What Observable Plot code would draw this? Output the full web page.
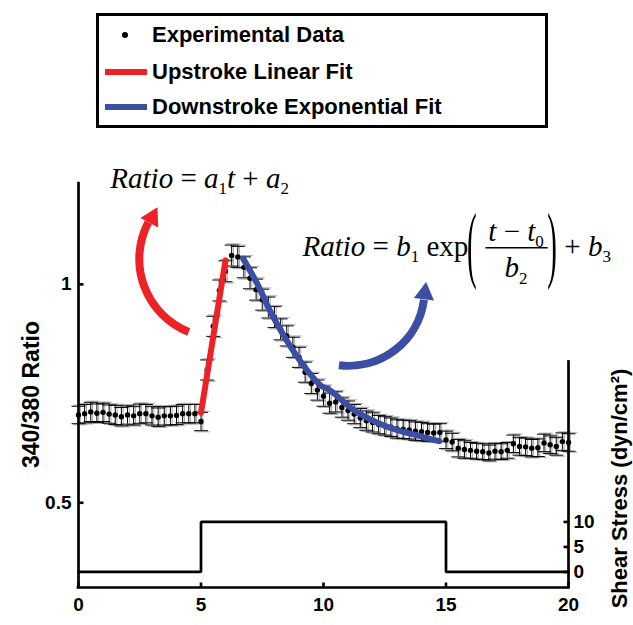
<!DOCTYPE html>
<html>
<head>
<meta charset="utf-8">
<script src="https://cdn.jsdelivr.net/npm/d3@7"></script>
<script src="https://cdn.jsdelivr.net/npm/@observablehq/plot@0.6"></script>
<style>
  html, body { margin:0; padding:0; background:#fff; }
  body { position:relative; width:633px; height:625px; overflow:hidden; font-family:"Liberation Sans", Arial, Helvetica, sans-serif; }
  #legend { position:absolute; left:96px; top:13px; width:446px; height:109px; border:3px solid #000; background:#fff; }
  #legend .row { position:absolute; left:0; right:0; height:30px; }
  #legend .lab { position:absolute; left:53px; top:0; line-height:30px; font-size:22px; font-weight:bold; color:#000; white-space:nowrap; }
  #legend .sw { position:absolute; }
  #chart { position:absolute; left:0; top:140px; }
</style>
</head>
<body>
<div id="legend"></div>
<div id="chart"></div>
<script>
// ---------------- data ----------------
const time = [0,0.25,0.5,0.75,1,1.25,1.5,1.75,2,2.25,2.5,2.75,3,3.25,3.5,3.75,4,4.25,4.5,4.75,
  5,5.25,5.5,5.75,6,6.25,6.5,6.75,7,7.25,7.5,7.75,8,8.25,8.5,8.75,9,9.25,9.5,9.75,
  10,10.25,10.5,10.75,11,11.25,11.5,11.75,12,12.25,12.5,12.75,13,13.25,13.5,13.75,14,14.25,14.5,14.75,
  15,15.25,15.5,15.75,16,16.25,16.5,16.75,17,17.25,17.5,17.75,18,18.25,18.5,18.75,19,19.25,19.5,19.75,20];
const ratio = [0.701,0.704,0.708,0.705,0.707,0.703,0.701,0.697,0.701,0.699,0.704,0.704,0.699,0.696,0.699,0.699,0.700,0.704,0.704,0.704,
  0.686,0.804,0.904,0.986,1.030,1.066,1.063,1.039,1.014,0.988,0.965,0.947,0.925,0.897,0.882,0.856,0.833,0.799,0.773,0.758,
  0.744,0.728,0.731,0.718,0.711,0.703,0.694,0.688,0.684,0.679,0.676,0.673,0.669,0.668,0.667,0.664,0.663,0.661,0.660,0.661,
  0.644,0.639,0.625,0.622,0.620,0.618,0.617,0.614,0.618,0.617,0.620,0.635,0.629,0.628,0.625,0.626,0.637,0.633,0.629,0.640,0.638];
const sem = [0.020,0.021,0.022,0.021,0.021,0.021,0.022,0.021,0.021,0.021,0.022,0.021,0.021,0.021,0.021,0.021,0.021,0.021,0.021,0.021,
  0.021,0.023,0.023,0.024,0.024,0.024,0.024,0.024,0.024,0.024,0.024,0.024,0.024,0.024,0.023,0.023,0.023,0.023,0.023,0.023,
  0.023,0.023,0.023,0.022,0.022,0.022,0.022,0.022,0.022,0.021,0.021,0.021,0.021,0.021,0.021,0.021,0.021,0.020,0.020,0.020,
  0.020,0.020,0.020,0.020,0.018,0.018,0.018,0.018,0.018,0.018,0.018,0.020,0.020,0.020,0.020,0.020,0.020,0.020,0.020,0.020,0.020];

const upFitT = [5.0, 6.0];
const upFitR = [0.706, 1.055];
const downFitT = [6.72, 7.30, 7.84, 8.66, 9.48, 9.88, 10.3, 11.25, 12.6, 13.97, 14.72];
const downFitR = [1.059, 1.001, 0.937, 0.857, 0.793, 0.769, 0.756, 0.712, 0.674, 0.652, 0.641];

const stressT = [0, 5, 5, 15, 15, 20];
const stressV = [0, 0, 10, 10, 0, 0];

const xTicks = [0, 5, 10, 15, 20];
const yTicks = [0.5, 1];
const stressTicks = [0, 5, 10];
const stressAxisTop = 42;
const stressBase = 0.3416, stressUnit = 0.011447; // shear stress axis placed on the ratio scale

const legendLabels = ["Experimental Data", "Upstroke Linear Fit", "Downstroke Exponential Fit"];
const yLabel = "340/380 Ratio";
const y2Label = "Shear Stress (dyn/cm\u00B2)";

// annotations (data coordinates)
const eqTexts = [
  {t: 1.30, r: 1.221, s: "*Ratio* = *a*_1*t* + *a*_2", anchor: "start"},
  {t: 9.14, r: 1.066, s: "*Ratio* = *b*_1 exp", anchor: "start"},
  {t: 17.86, r: 1.100, s: "*t* \u2212 *t*_0", anchor: "middle"},
  {t: 17.86, r: 1.016, s: "*b*_2", anchor: "middle"},
  {t: 19.83, r: 1.066, s: "+ *b*_3", anchor: "start"}
];
const parens = [{t: 15.86, r: 1.058, s: "("}, {t: 19.13, r: 1.058, s: ")"}];
const fracBar = [{t1: 16.63, t2: 19.17, r: 1.084}];
const redArrow = [{t1: 4.5, r1: 0.891, t2: 2.85, r2: 1.142}];
const blueArrow = [{t1: 10.63, r1: 0.815, t2: 14.1, r2: 0.965}];
const heads = [{t: 3.0, r: 1.153, rot: 28, c: "red"}, {t: 14.13, r: 0.979, rot: 7, c: "blue"}];

const RED = "#ec2227", BLUE = "#3c4ea3";

// ---------------- legend ----------------
const legend = document.getElementById("legend");
const rowCenters = [19, 56, 91];
legendLabels.forEach((lab, i) => {
  const row = document.createElement("div");
  row.className = "row";
  row.style.top = (rowCenters[i] - 15) + "px";
  const sw = document.createElement("div");
  sw.className = "sw";
  if (i === 0) {
    Object.assign(sw.style, {left: "23px", top: "12px", width: "6px", height: "6px", borderRadius: "50%", background: "#000"});
  } else {
    Object.assign(sw.style, {left: "6px", top: "12px", width: "42px", height: "6px", background: i === 1 ? RED : BLUE});
  }
  const t = document.createElement("div");
  t.className = "lab";
  t.textContent = lab;
  row.appendChild(sw); row.appendChild(t);
  legend.appendChild(row);
});

// ---------------- chart ----------------
const pts = time.map((t, i) => ({t, r: ratio[i], e: sem[i]}));
const upFit = upFitT.map((t, i) => ({t, r: upFitR[i]}));
const downFit = downFitT.map((t, i) => ({t, r: downFitR[i]}));
const stress = stressT.map((t, i) => ({t, s: stressV[i]}));
const toR = s => stressBase + s * stressUnit;

const half = size => Math.sqrt(size / Math.PI);
const capSym = {draw(ctx, size) { const w = half(size); ctx.moveTo(-w, 0); ctx.lineTo(w, 0); }};
const tickRightSym = {draw(ctx, size) { const w = half(size); ctx.moveTo(0, 0); ctx.lineTo(w, 0); }};
const tickLeftSym = {draw(ctx, size) { const w = half(size); ctx.moveTo(0, 0); ctx.lineTo(-w, 0); }};
const tickUpSym = {draw(ctx, size) { const w = half(size); ctx.moveTo(0, 0); ctx.lineTo(0, -w); }};

const stressLabel = new Map(stressTicks.map(s => [toR(s), String(s)]));
const serif = '"Liberation Serif", "Times New Roman", Times, serif';
const EQ_SIZE = 29;
const GRAY = "#a8a8a8";

const chart = Plot.plot({
  width: 633, height: 485,
  marginTop: 43, marginBottom: 38, marginLeft: 78, marginRight: 65,
  x: {domain: [0, 20]},
  y: {domain: [0.306, 1.231]},
  style: {fontFamily: '"Liberation Sans", Arial, Helvetica, sans-serif', fontSize: "19px", fontWeight: "bold", background: "white", color: "black", overflow: "visible"},
  marks: [
    // axes labels
    Plot.axisX({ticks: xTicks, tickSize: 0, tickPadding: 10, tickFormat: d => String(d), label: null, fontSize: 19, fontWeight: "bold"}),
    Plot.axisY({ticks: yTicks, tickSize: 0, tickPadding: 7, tickFormat: d => String(d), label: null, fontSize: 19, fontWeight: "bold"}),
    Plot.axisY({anchor: "right", ticks: stressTicks.map(toR), tickSize: 0, tickPadding: 5, tickFormat: d => stressLabel.get(d), label: null, fontSize: 19, fontWeight: "bold"}),
    // tick marks (inward)
    Plot.dot(xTicks, {x: d => d, y: () => 0.306, symbol: tickUpSym, r: 5, fill: "none", stroke: "black", strokeWidth: 2.6}),
    Plot.dot(yTicks, {x: () => 0, y: d => d, symbol: tickRightSym, r: 5, fill: "none", stroke: "black", strokeWidth: 2.6}),
    Plot.dot(stressTicks, {x: () => 20, y: d => toR(d), symbol: tickLeftSym, r: 5, fill: "none", stroke: "black", strokeWidth: 2.6}),
    // shear stress step
    Plot.line(stress, {x: "t", y: d => toR(d.s), stroke: "black", strokeWidth: 2.7, strokeLinejoin: "miter"}),
    // gray shadow error bars
    Plot.ruleX(pts, {x: "t", y1: d => d.r - d.e * 1.12, y2: d => d.r + d.e * 1.12, dx: 1.8, stroke: GRAY, strokeWidth: 1}),
    Plot.dot(pts, {x: "t", y: d => d.r - d.e * 1.12, dx: 1.8, symbol: capSym, r: 7, fill: "none", stroke: GRAY, strokeWidth: 1}),
    Plot.dot(pts, {x: "t", y: d => d.r + d.e * 1.12, dx: 1.8, symbol: capSym, r: 7, fill: "none", stroke: GRAY, strokeWidth: 1}),
    // error bars
    Plot.ruleX(pts, {x: "t", y1: d => d.r - d.e, y2: d => d.r + d.e, stroke: "black", strokeWidth: 1}),
    Plot.dot(pts, {x: "t", y: d => d.r - d.e, symbol: capSym, r: 7, fill: "none", stroke: "black", strokeWidth: 1}),
    Plot.dot(pts, {x: "t", y: d => d.r + d.e, symbol: capSym, r: 7, fill: "none", stroke: "black", strokeWidth: 1}),
    // data points
    Plot.dot(pts, {x: "t", y: "r", r: 2.7, fill: "black", stroke: "none"}),
    // fits
    Plot.line(upFit, {x: "t", y: "r", stroke: RED, strokeWidth: 6}),
    Plot.line(downFit, {x: "t", y: "r", stroke: BLUE, strokeWidth: 6, curve: "catmull-rom"}),
    // arrows
    Plot.arrow(redArrow, {x1: "t1", y1: "r1", x2: "t2", y2: "r2", bend: 48, headLength: 0, stroke: RED, strokeWidth: 8, strokeLinecap: "butt"}),
    Plot.arrow(blueArrow, {x1: "t1", y1: "r1", x2: "t2", y2: "r2", bend: -45, headLength: 0, stroke: BLUE, strokeWidth: 8, strokeLinecap: "butt"}),
    Plot.dot(heads, {x: "t", y: "r", symbol: "triangle", r: 7.5, rotate: "rot", fill: d => d.c === "red" ? RED : BLUE, stroke: "none"}),
    // equations
    Plot.text(eqTexts.filter(d => d.anchor === "start"), {x: "t", y: "r", text: "s", textAnchor: "start", lineAnchor: "bottom", fontFamily: serif, fontSize: EQ_SIZE, fontWeight: "normal", fill: "black"}),
    Plot.text(eqTexts.filter(d => d.anchor === "middle"), {x: "t", y: "r", text: "s", textAnchor: "middle", lineAnchor: "bottom", fontFamily: serif, fontSize: EQ_SIZE, fontWeight: "normal", fill: "black"}),
    Plot.text(parens, {x: "t", y: "r", text: "s", textAnchor: "start", lineAnchor: "bottom", fontFamily: serif, fontSize: EQ_SIZE, fontWeight: "normal", fill: "black"}),
    Plot.ruleY(fracBar, {y: "r", x1: "t1", x2: "t2", stroke: "black", strokeWidth: 1.5}),
    // axis titles
    Plot.text([yLabel], {frameAnchor: "left", textAnchor: "middle", dx: -47, dy: 9, rotate: -90, fontSize: 23, fontWeight: "bold", fill: "black"}),
    Plot.text([y2Label], {frameAnchor: "right", textAnchor: "middle", dx: 51, dy: 103, rotate: -90, fontSize: 22, fontWeight: "bold", fill: "black"}),
    // spines
    Plot.ruleX([0], {stroke: "black", strokeWidth: 2.7, strokeLinecap: "square"}),
    Plot.ruleY([0.306], {stroke: "black", strokeWidth: 2.7, strokeLinecap: "square"}),
    Plot.ruleX([20], {y1: () => 0.306, y2: () => toR(stressAxisTop), stroke: "black", strokeWidth: 2.7, strokeLinecap: "square"})
  ]
});
document.getElementById("chart").appendChild(chart);

// ---------------- rich text post-processing (italics, subscripts, tall parentheses) ----------------
function parseRich(s) {
  const out = []; let it = false, buf = "";
  const flush = () => { if (buf) out.push({s: buf, it, sub: false}); buf = ""; };
  for (let i = 0; i < s.length; i++) {
    const c = s[i];
    if (c === "*") { flush(); it = !it; }
    else if (c === "_") { flush(); out.push({s: s[i + 1], it: false, sub: true}); i++; }
    else buf += c;
  }
  flush();
  return out;
}
const SUB_SHIFT = 6.5;
d3.select(chart).selectAll("text").each(function() {
  const txt = this.textContent;
  if (!/[*_]/.test(txt) || this.querySelector("tspan")) return;
  const sel = d3.select(this);
  sel.text(null);
  let shifted = false;
  parseRich(txt).forEach(p => {
    const ts = sel.append("tspan").text(p.s).attr("font-style", p.it ? "italic" : "normal");
    if (p.sub) { ts.attr("font-size", 17).attr("dy", shifted ? 0 : SUB_SHIFT); shifted = true; }
    else if (shifted) { ts.attr("dy", -SUB_SHIFT); shifted = false; }
  });
});
const ys = chart.scale("y");
const PAREN_SCALE = 2.9;
d3.select(chart).selectAll("text").filter(function() { return this.textContent === "(" || this.textContent === ")"; }).each(function() {
  const cy = ys.apply(parens[0].r) - 0.24 * EQ_SIZE;
  const g = document.createElementNS("http://www.w3.org/2000/svg", "g");
  this.parentNode.insertBefore(g, this);
  g.appendChild(this);
  g.setAttribute("transform", `translate(0,${cy}) scale(1,${PAREN_SCALE}) translate(0,${-cy})`);
});
</script>
</body>
</html>
